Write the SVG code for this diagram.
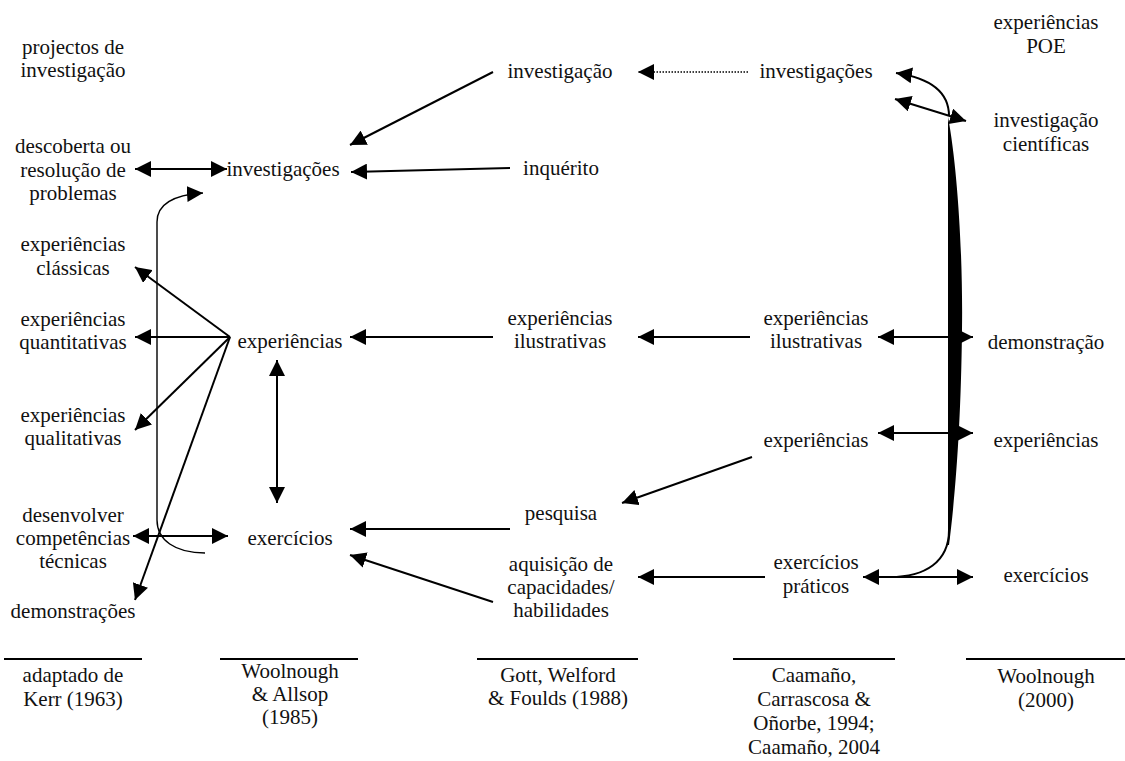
<svg xmlns="http://www.w3.org/2000/svg" width="1125" height="761" viewBox="0 0 1125 761">
  <defs>
    <marker id="head" markerUnits="userSpaceOnUse" markerWidth="16" markerHeight="16" viewBox="0 0 15 15" refX="15" refY="7.5" orient="auto-start-reverse">
      <path d="M0,0 L15,7.5 L0,15 Z" fill="#000"/>
    </marker>
    <style>
      text { font-family: "Liberation Serif", "Times New Roman", Times, Tinos, "Noto Serif", "DejaVu Serif", FreeSerif, serif; font-size: 21px; fill: #111; text-anchor: middle; }
      .ln { stroke: #000; stroke-width: 2; fill: none; }
      .thin { stroke: #000; stroke-width: 1.4; fill: none; }
      .end { marker-end: url(#head); }
      .both { marker-start: url(#head); marker-end: url(#head); }
      .dots { stroke: #000; stroke-width: 1.5; stroke-dasharray: 1.5 1.5; fill: none; }
      .rule { stroke: #000; stroke-width: 2; }
    </style>
  </defs>
  <rect width="1125" height="761" fill="#fff"/>

  <!-- column 1: Kerr -->
  <g id="kerr-projectos"><text x="73" y="54">projectos de</text><text x="73" y="77">investigação</text></g>
  <g id="kerr-descoberta"><text x="73" y="153">descoberta ou</text><text x="73" y="177">resolução de</text><text x="73" y="200">problemas</text></g>
  <g id="kerr-classicas"><text x="73" y="251">experiências</text><text x="73" y="275">clássicas</text></g>
  <g id="kerr-quantitativas"><text x="73" y="326">experiências</text><text x="73" y="349">quantitativas</text></g>
  <g id="kerr-qualitativas"><text x="73" y="422">experiências</text><text x="73" y="445">qualitativas</text></g>
  <g id="kerr-tecnicas"><text x="73" y="522">desenvolver</text><text x="73" y="545">competências</text><text x="73" y="568">técnicas</text></g>
  <g id="kerr-demonstracoes"><text x="73" y="618">demonstrações</text></g>
  <g id="kerr-source"><line class="rule" x1="4" y1="659" x2="142" y2="659"/><text x="73" y="682">adaptado de</text><text x="73" y="706">Kerr (1963)</text></g>

  <!-- column 2: Woolnough & Allsop -->
  <g id="wa-investigacoes"><text x="283" y="176">investigações</text></g>
  <g id="wa-experiencias"><text x="290" y="348">experiências</text></g>
  <g id="wa-exercicios"><text x="290" y="545">exercícios</text></g>
  <g id="wa-source"><line class="rule" x1="220" y1="659" x2="358" y2="659"/><text x="290" y="678">Woolnough</text><text x="290" y="701">&amp; Allsop</text><text x="290" y="724">(1985)</text></g>

  <!-- column 3: Gott, Welford & Foulds -->
  <g id="gwf-investigacao"><text x="560" y="78">investigação</text></g>
  <g id="gwf-inquerito"><text x="561" y="175">inquérito</text></g>
  <g id="gwf-ilustrativas"><text x="560" y="325">experiências</text><text x="560" y="348">ilustrativas</text></g>
  <g id="gwf-pesquisa"><text x="561" y="520">pesquisa</text></g>
  <g id="gwf-aquisicao"><text x="561" y="571">aquisição de</text><text x="561" y="594">capacidades/</text><text x="561" y="617">habilidades</text></g>
  <g id="gwf-source"><line class="rule" x1="477" y1="659" x2="638" y2="659"/><text x="558" y="682">Gott, Welford</text><text x="558" y="705">&amp; Foulds (1988)</text></g>

  <!-- column 4: Caamaño -->
  <g id="cco-investigacoes"><text x="816" y="78">investigações</text></g>
  <g id="cco-ilustrativas"><text x="816" y="325">experiências</text><text x="816" y="348">ilustrativas</text></g>
  <g id="cco-experiencias"><text x="816" y="447">experiências</text></g>
  <g id="cco-praticos"><text x="816" y="569">exercícios</text><text x="816" y="593">práticos</text></g>
  <g id="cco-source"><line class="rule" x1="733" y1="659" x2="895" y2="659"/><text x="814" y="682">Caamaño,</text><text x="814" y="706">Carrascosa &amp;</text><text x="814" y="730">Oñorbe, 1994;</text><text x="814" y="754">Caamaño, 2004</text></g>

  <!-- column 5: Woolnough 2000 -->
  <g id="w-poe"><text x="1046" y="29">experiências</text><text x="1046" y="53">POE</text></g>
  <g id="w-cientificas"><text x="1046" y="127">investigação</text><text x="1046" y="151">científicas</text></g>
  <g id="w-demonstracao"><text x="1046" y="349">demonstração</text></g>
  <g id="w-experiencias"><text x="1046" y="447">experiências</text></g>
  <g id="w-exercicios"><text x="1046" y="582">exercícios</text></g>
  <g id="w-source"><line class="rule" x1="966" y1="659" x2="1125" y2="659"/><text x="1046" y="683">Woolnough</text><text x="1046" y="707">(2000)</text></g>

  <!-- connectors -->
  <g id="connectors">
    <!-- column 1 / column 2 links -->
    <line class="ln both" x1="135" y1="169" x2="227" y2="169"/>
    <line class="ln both" x1="133" y1="536" x2="228" y2="536"/>
    <line class="ln both" x1="277" y1="360" x2="277" y2="503"/>
    <line class="ln end" x1="230" y1="337" x2="135" y2="267"/>
    <line class="ln end" x1="230" y1="337" x2="135" y2="337"/>
    <line class="ln end" x1="230" y1="337" x2="135" y2="430"/>
    <line class="ln end" x1="230" y1="337" x2="135" y2="600"/>
    <path class="thin end" d="M205,553 C175,553 157,540 157,520 L157,222 C157,205 172,195 203,193"/>

    <!-- column 3 to column 2 -->
    <line class="ln end" x1="493" y1="72" x2="350" y2="145"/>
    <line class="ln end" x1="510" y1="168" x2="351" y2="172"/>
    <line class="ln end" x1="493" y1="337" x2="350" y2="337"/>
    <line class="ln end" x1="510" y1="529" x2="350" y2="529"/>
    <line class="ln end" x1="493" y1="602" x2="350" y2="555"/>

    <!-- column 4 to column 3 -->
    <line class="dots end" x1="748" y1="72" x2="638" y2="72"/>
    <line class="ln end" x1="750" y1="337" x2="638" y2="337"/>
    <line class="ln end" x1="752" y1="457" x2="622" y2="503"/>
    <line class="ln end" x1="765" y1="577" x2="638" y2="577"/>

    <!-- column 5 to column 4 -->
    <path d="M948,117 C958,170 963,260 962,330 C961,420 956,490 949,545 L948,545 Z" fill="#000"/>
    <path class="ln end" d="M949,116 C949,92 930,78 896,73"/>
    <line class="ln both" x1="895" y1="99" x2="966" y2="121"/>
    <line class="ln both" x1="878" y1="337" x2="973" y2="337"/>
    <line class="ln both" x1="878" y1="433" x2="973" y2="433"/>
    <path class="ln" d="M949,530 C949,562 925,577 890,577"/>
    <line class="ln both" x1="863" y1="577" x2="973" y2="577"/>
  </g>
</svg>
